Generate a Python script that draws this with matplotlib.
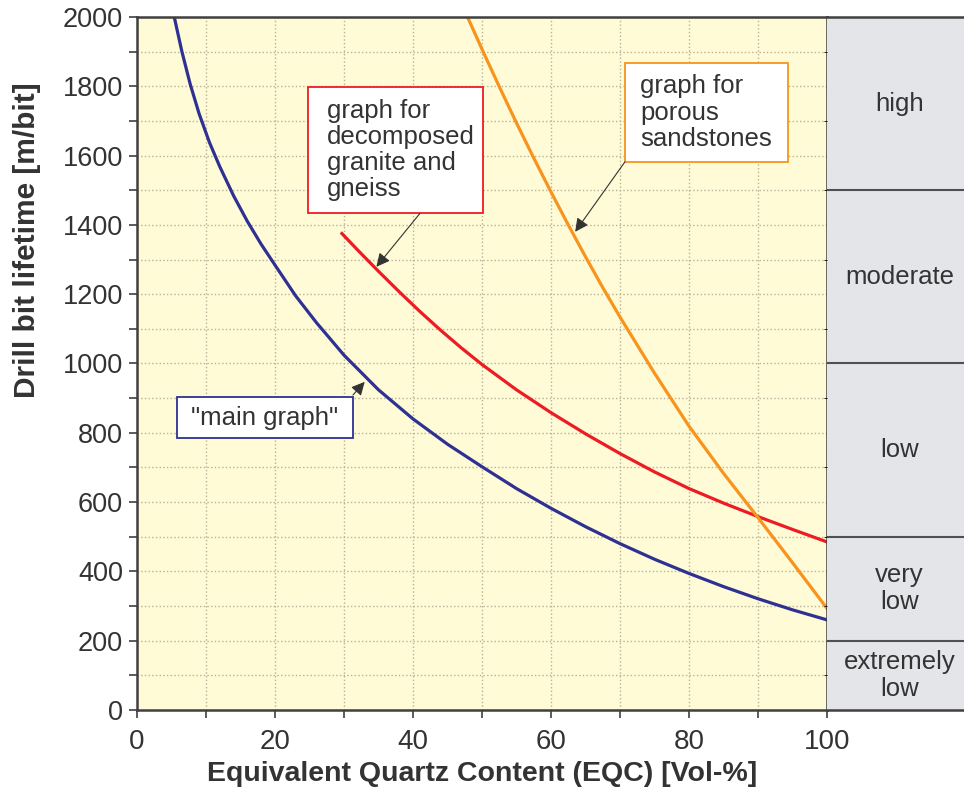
import numpy as np
import matplotlib
matplotlib.use('Agg')
import matplotlib.pyplot as plt
from matplotlib.patches import Rectangle

plt.rcParams['font.family'] = ['Liberation Sans', 'DejaVu Sans']

# curves: EQC [Vol-%] vs drill bit lifetime [m/bit]
main_x = [5.4, 6.5, 7.7, 9, 10.5, 12, 14, 16, 18, 20, 23, 26, 30, 35, 40, 45, 50,
          55, 60, 65, 70, 75, 80, 85, 90, 95, 100]
main_y = [2000, 1901, 1807, 1721, 1638, 1568, 1484, 1410, 1344, 1284, 1195, 1118, 1024, 924, 840, 767, 702,
          639, 582, 529, 480, 435, 394, 356, 321, 289, 260]

granite_x = [29.7, 32, 35, 38, 41, 44, 47, 50, 55, 60, 65, 70, 75, 80, 85, 90, 95, 100]
granite_y = [1375, 1327, 1266, 1207, 1150, 1096, 1045, 997, 924, 858, 797, 740, 687, 639, 597, 558, 521, 485]

sand_x = [47.9, 50, 52.5, 55, 57.5, 60, 62.5, 65, 67.5, 70, 75, 80, 85, 90, 95, 100]
sand_y = [2000, 1907, 1799, 1694, 1593, 1495, 1400, 1308, 1219, 1134, 972, 819, 683, 555, 425, 293]

# lifetime classes shown on the right
class_edges = [0, 200, 500, 1000, 1500, 2000]
class_names = ['extremely\nlow', 'very\nlow', 'low', 'moderate', 'high']

txt = '#333333'
fig = plt.figure(figsize=(9.64, 7.93), dpi=100)
ax = fig.add_axes([0.1421, 0.1047, 0.7158, 0.8739])
ax.set_facecolor('#fffbd6')

ax.set_xlim(0, 100)
ax.set_ylim(0, 2000)
ax.set_xticks(np.arange(0, 101, 20))
ax.set_xticks(np.arange(0, 101, 10), minor=True)
ax.set_yticks(np.arange(0, 2001, 200))
ax.set_yticks(np.arange(0, 2001, 100), minor=True)
ax.grid(True, which='both', color='#b8b09a', linestyle=':', linewidth=1.0)
ax.set_axisbelow(True)
ax.tick_params(which='both', direction='out', length=6, width=1.2, color='#404040')
ax.tick_params(axis='y', labelsize=19.5, labelcolor=txt, pad=4)
ax.tick_params(axis='x', labelsize=20, labelcolor=txt, pad=8)
for s in ax.spines.values():
    s.set_color('#404040')
    s.set_linewidth(1.8)

ax.plot(main_x, main_y, color='#2e3192', lw=2.3)
ax.plot(granite_x, granite_y, color='#ed1c24', lw=2.3)
ax.plot(sand_x, sand_y, color='#f7941d', lw=2.3)

ax.set_xlabel('Equivalent Quartz Content (EQC) [Vol-%]', fontsize=20.5, fontweight='bold', color=txt, labelpad=4)
ax.set_ylabel('Drill bit lifetime [m/bit]', fontsize=21.5, fontweight='bold', color=txt)
ax.yaxis.set_label_coords(-0.139, 0.678)

# annotation boxes
boxes = [
    ((5.75, 784), 25.6, 120, '#2e3192', '"main graph"', (18.55, 844), 'center', (31.3, 909), (33.0, 947)),
    ((24.83, 1433), 25.36, 366, '#ed1c24', 'graph for\ndecomposed\ngranite and\ngneiss', (27.5, 1616), 'left', (41.0, 1433), (34.7, 1279)),
    ((70.72, 1582), 23.67, 284, '#f7941d', 'graph for\nporous\nsandstones', (72.9, 1724), 'left', (70.72, 1582), (63.5, 1380)),
]
for (x0, y0), w, h, ec, label, (tx, ty), ha, tail, tip in boxes:
    ax.add_patch(Rectangle((x0, y0), w, h, facecolor='white', edgecolor=ec, lw=1.3, zorder=4))
    ax.text(tx, ty, label, ha=ha, va='center', fontsize=18.5, color=txt, linespacing=1.12, zorder=5)
    ax.annotate('', xy=tip, xytext=tail, zorder=6,
                arrowprops=dict(arrowstyle='-|>', color='#333333', lw=0.8, mutation_scale=20,
                                shrinkA=0, shrinkB=0))

# class panel
ax2 = fig.add_axes([0.8579, 0.1047, 0.1421, 0.8739], sharey=ax)
ax2.set_facecolor('#e4e5e9')
ax2.set_xlim(0, 1)
ax2.tick_params(left=False, labelleft=False, bottom=False, labelbottom=False)
for side in ['left', 'right']:
    ax2.spines[side].set_visible(False)
for side in ['top', 'bottom']:
    ax2.spines[side].set_color('#404040')
    ax2.spines[side].set_linewidth(1.8)
for edge in class_edges[1:-1]:
    ax2.axhline(edge, color='#505050', lw=1.5)
for lo, hi, name in zip(class_edges[:-1], class_edges[1:], class_names):
    ax2.text(0.53, (lo + hi) / 2, name, ha='center', va='center', fontsize=18.5, color=txt, linespacing=1.15)

fig.savefig('out.png', dpi=100)
